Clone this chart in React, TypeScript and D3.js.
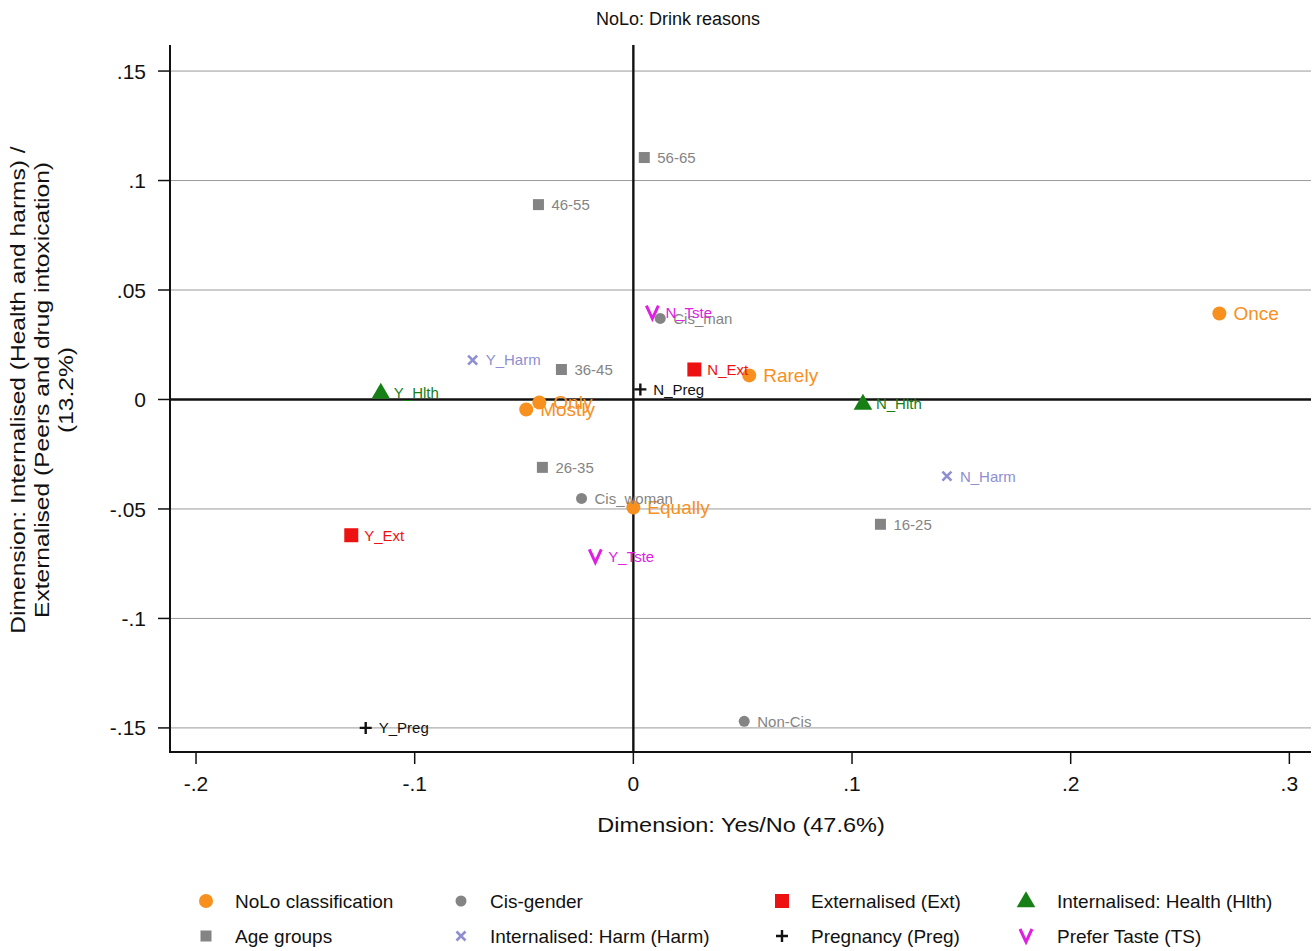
import React from 'react';
import * as d3 from 'd3';

const W = 1315;
const H = 951;
const margin = { top: 45, right: 4, bottom: 199, left: 170 };

const groups = ['nolo', 'cis', 'ext', 'hlth', 'age', 'harm', 'preg', 'tste'];
const groupNames = [
  'NoLo classification', 'Cis-gender', 'Externalised (Ext)', 'Internalised: Health (Hlth)',
  'Age groups', 'Internalised: Harm (Harm)', 'Pregnancy (Preg)', 'Prefer Taste (TS)',
];
const groupColors = ['#f7901e', '#848484', '#ee1111', '#168016', '#848484', '#8e8ed2', '#111111', '#e020e0'];

const labels = [
  'Once', 'Rarely', 'Only', 'Mostly', 'Equally',
  'Cis_man', 'Cis_woman', 'Non-Cis',
  '56-65', '46-55', '36-45', '26-35', '16-25',
  'N_Ext', 'Y_Ext', 'Y_Hlth', 'N_Hlth', 'Y_Harm', 'N_Harm',
  'N_Preg', 'Y_Preg', 'N_Tste', 'Y_Tste',
];
const pointGroups = [
  'nolo', 'nolo', 'nolo', 'nolo', 'nolo',
  'cis', 'cis', 'cis',
  'age', 'age', 'age', 'age', 'age',
  'ext', 'ext', 'hlth', 'hlth', 'harm', 'harm',
  'preg', 'preg', 'tste', 'tste',
];
const dim1 = [
  0.268, 0.053, -0.043, -0.049, 0.0,
  0.0123, -0.0237, 0.0507,
  0.005, -0.0434, -0.0329, -0.0416, 0.113,
  0.0279, -0.129, -0.1155, 0.105, -0.0735, 0.1434,
  0.0032, -0.1224, 0.0087, -0.0174,
];
const dim2 = [
  0.0393, 0.011, -0.0014, -0.0046, -0.0493,
  0.037, -0.0452, -0.147,
  0.1105, 0.089, 0.0137, -0.031, -0.057,
  0.0137, -0.062, 0.0032, -0.0018, 0.018, -0.035,
  0.0046, -0.150, 0.0397, -0.0717,
];

const xTicks = [-0.2, -0.1, 0, 0.1, 0.2, 0.3];
const yTicks = [0.15, 0.1, 0.05, 0, -0.05, -0.1, -0.15];
const fmt = (v: number) => (v === 0 ? '0' : (v < 0 ? '-' : '') + String(Math.abs(+v.toFixed(2))).replace(/^0/, ''));

const font = '"Liberation Sans", Arial, sans-serif';

function Marker({ g, x, y }: { g: string; x: number; y: number }) {
  const c = groupColors[groups.indexOf(g)];
  switch (g) {
    case 'nolo':
      return <circle cx={x} cy={y} r={7} fill={c} />;
    case 'cis':
      return <circle cx={x} cy={y} r={5.5} fill={c} />;
    case 'age':
      return <rect x={x - 5.5} y={y - 5.5} width={11} height={11} fill={c} />;
    case 'ext':
      return <rect x={x - 7} y={y - 7} width={14} height={14} fill={c} />;
    case 'hlth':
      return <path d={d3.symbol(d3.symbolTriangle, 150)()!} transform={`translate(${x},${y + 1})`} fill={c} />;
    case 'harm':
      return (
        <path d={`M${x - 4.5},${y - 4.5}L${x + 4.5},${y + 4.5}M${x + 4.5},${y - 4.5}L${x - 4.5},${y + 4.5}`}
          stroke={c} strokeWidth={2.6} />
      );
    case 'preg':
      return (
        <path d={`M${x - 6},${y}L${x + 6},${y}M${x},${y - 6}L${x},${y + 6}`} stroke={c} strokeWidth={2.4} />
      );
    case 'tste':
      return (
        <path d={`M${x - 6},${y - 7}L${x},${y + 6}L${x + 6},${y - 7}`} stroke={c} strokeWidth={3} fill="none" />
      );
    default:
      return null;
  }
}

export default function App() {
  const iw = W - margin.left - margin.right;
  const ih = H - margin.top - margin.bottom;
  const x = d3.scaleLinear().domain([-0.2119, 0.3099]).range([margin.left, margin.left + iw]);
  const y = d3.scaleLinear().domain([-0.161, 0.1619]).range([margin.top + ih, margin.top]);
  const x0 = margin.left;
  const x1 = margin.left + iw;
  const yb = margin.top + ih;

  const legendCols = [206, 461, 782, 1026];
  const legendRows = [901, 936];

  return (
    <svg width={W} height={H} style={{ display: 'block', position: 'absolute', left: 0, top: 0, background: '#fff' }}
      fontFamily={font}>
      <text x={678} y={25} textAnchor="middle" fontSize={18} fill="#111">NoLo: Drink reasons</text>

      {/* grid */}
      {yTicks.map((t) => (
        <line key={'g' + t} x1={x0} x2={x1} y1={y(t)} y2={y(t)} stroke="#9a9a9a" strokeWidth={1} />
      ))}
      {/* zero lines */}
      <line x1={x0} x2={x1} y1={y(0)} y2={y(0)} stroke="#111" strokeWidth={2.4} />
      <line x1={x(0)} x2={x(0)} y1={margin.top} y2={yb} stroke="#111" strokeWidth={2.4} />

      {/* axes */}
      <line x1={x0} x2={x0} y1={margin.top} y2={yb + 1} stroke="#111" strokeWidth={2} />
      <line x1={x0 - 1} x2={x1} y1={yb} y2={yb} stroke="#111" strokeWidth={2} />
      {yTicks.map((t) => (
        <g key={'y' + t}>
          <line x1={x0 - 12} x2={x0} y1={y(t)} y2={y(t)} stroke="#111" strokeWidth={1.5} />
          <text x={146} y={y(t)} dy="0.36em" textAnchor="end" fontSize={21} fill="#111">{fmt(t)}</text>
        </g>
      ))}
      {xTicks.map((t) => (
        <g key={'x' + t}>
          <line x1={x(t)} x2={x(t)} y1={yb} y2={yb + 12} stroke="#111" strokeWidth={1.5} />
          <text x={x(t)} y={791} textAnchor="middle" fontSize={21} fill="#111">{fmt(t)}</text>
        </g>
      ))}
      <g transform="translate(741,832) scale(1.12,1)">
        <text x={0} y={0} textAnchor="middle" fontSize={21} fill="#111">Dimension: Yes/No (47.6%)</text>
      </g>
      <g transform="translate(0,390) rotate(-90) scale(1.17,1)" fontSize={21} fill="#111" textAnchor="middle">
        <text x={0} y={25}>Dimension: Internalised (Health and harms) /</text>
        <text x={0} y={49}>Externalised (Peers and drug intoxication)</text>
        <text x={0} y={73}>(13.2%)</text>
      </g>

      {/* points */}
      {labels.map((lab, i) => {
        const g = pointGroups[i];
        const c = groupColors[groups.indexOf(g)];
        const px = x(dim1[i]);
        const py = y(dim2[i]);
        const big = g === 'nolo';
        return (
          <g key={lab}>
            <Marker g={g} x={px} y={py} />
            <text x={px + (big ? 14 : 13)} y={py} dy="0.36em" fontSize={big ? 19 : 15} fill={c}>{lab}</text>
          </g>
        );
      })}

      {/* legend */}
      {groups.map((g, i) => {
        const cx = legendCols[i % 4];
        const cy = legendRows[Math.floor(i / 4)];
        return (
          <g key={'l' + g}>
            <Marker g={g} x={cx} y={cy} />
            <text x={cx + (i % 4 === 3 ? 31 : 29)} y={cy} dy="0.36em" fontSize={19} fill="#111">{groupNames[i]}</text>
          </g>
        );
      })}
    </svg>
  );
}
